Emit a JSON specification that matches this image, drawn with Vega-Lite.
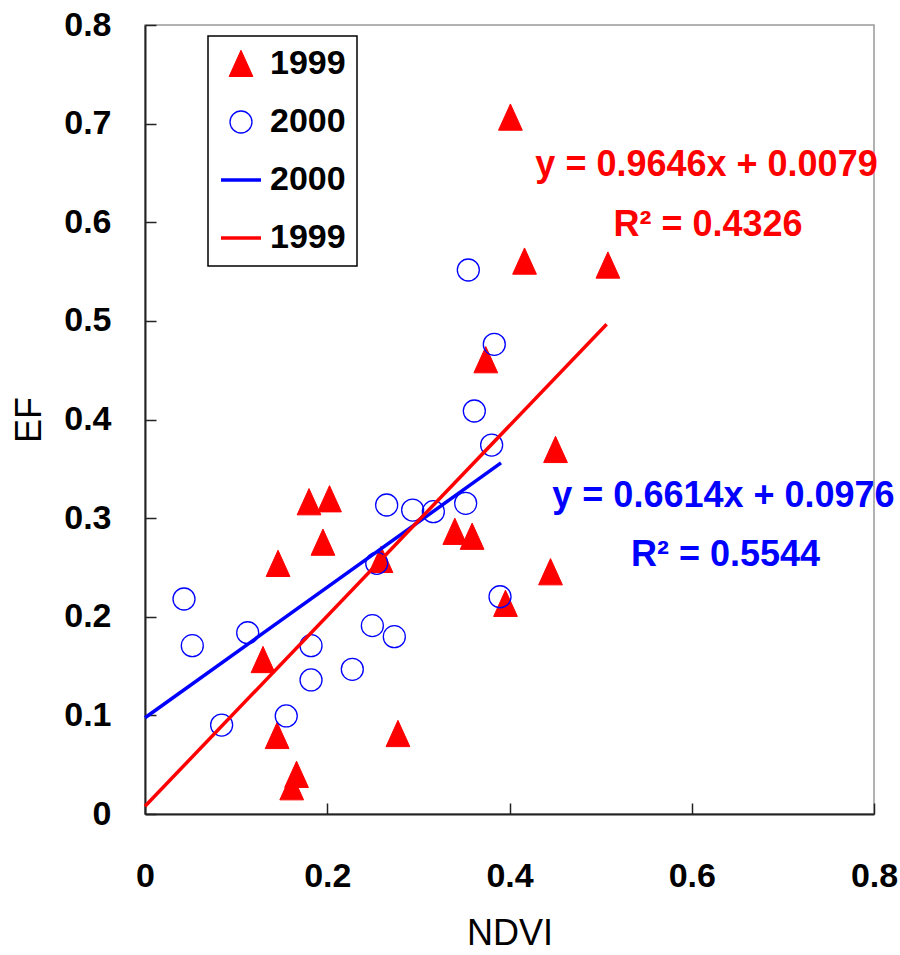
{
  "$schema": "https://vega.github.io/schema/vega-lite/v6.json",
  "width": 729,
  "height": 789,
  "autosize": {"type": "none"},
  "padding": {"left": 145, "top": 25, "right": 26, "bottom": 141},
  "background": "white",
  "config": {
    "view": {"stroke": "#999999", "strokeWidth": 1.5},
    "font": "Liberation Sans",
    "axis": {
      "grid": false,
      "domainColor": "#222222",
      "domainWidth": 2,
      "tickColor": "#222222",
      "tickWidth": 1.5,
      "tickSize": -11,
      "labelFont": "Liberation Sans",
      "labelFontWeight": "bold",
      "labelFontSize": 34,
      "labelColor": "#000000",
      "labelFlush": false,
      "labelOverlap": false,
      "titleFont": "Liberation Sans",
      "titleFontWeight": "normal",
      "titleFontSize": 36,
      "titleColor": "#000000"
    },
    "legend": {
      "orient": "none",
      "legendX": 63,
      "legendY": 11,
      "strokeColor": "#000000",
      "strokeWidth": 1.5,
      "fillColor": "white",
      "padding": 11,
      "symbolOffset": 5,
      "labelFont": "Liberation Sans",
      "labelFontWeight": "bold",
      "labelFontSize": 34,
      "labelColor": "#000000",
      "labelOffset": 12,
      "rowPadding": 24
    }
  },
  "data": {
    "values": [
      {"kind": "pt", "series": "1999 pts", "NDVI": 0.401, "EF": 0.706},
      {"kind": "pt", "series": "1999 pts", "NDVI": 0.4165, "EF": 0.560},
      {"kind": "pt", "series": "1999 pts", "NDVI": 0.508, "EF": 0.556},
      {"kind": "pt", "series": "1999 pts", "NDVI": 0.374, "EF": 0.460},
      {"kind": "pt", "series": "1999 pts", "NDVI": 0.4505, "EF": 0.369},
      {"kind": "pt", "series": "1999 pts", "NDVI": 0.445, "EF": 0.245},
      {"kind": "pt", "series": "1999 pts", "NDVI": 0.3956, "EF": 0.213},
      {"kind": "pt", "series": "1999 pts", "NDVI": 0.340, "EF": 0.286},
      {"kind": "pt", "series": "1999 pts", "NDVI": 0.359, "EF": 0.281},
      {"kind": "pt", "series": "1999 pts", "NDVI": 0.259, "EF": 0.2575},
      {"kind": "pt", "series": "1999 pts", "NDVI": 0.180, "EF": 0.316},
      {"kind": "pt", "series": "1999 pts", "NDVI": 0.2025, "EF": 0.319},
      {"kind": "pt", "series": "1999 pts", "NDVI": 0.1953, "EF": 0.275},
      {"kind": "pt", "series": "1999 pts", "NDVI": 0.146, "EF": 0.2535},
      {"kind": "pt", "series": "1999 pts", "NDVI": 0.1295, "EF": 0.156},
      {"kind": "pt", "series": "1999 pts", "NDVI": 0.145, "EF": 0.079},
      {"kind": "pt", "series": "1999 pts", "NDVI": 0.161, "EF": 0.027},
      {"kind": "pt", "series": "1999 pts", "NDVI": 0.1663, "EF": 0.0396},
      {"kind": "pt", "series": "1999 pts", "NDVI": 0.2776, "EF": 0.081},
      {"kind": "pt", "series": "2000 pts", "NDVI": 0.0428, "EF": 0.218},
      {"kind": "pt", "series": "2000 pts", "NDVI": 0.0519, "EF": 0.1707},
      {"kind": "pt", "series": "2000 pts", "NDVI": 0.1127, "EF": 0.1838},
      {"kind": "pt", "series": "2000 pts", "NDVI": 0.0841, "EF": 0.0902},
      {"kind": "pt", "series": "2000 pts", "NDVI": 0.155, "EF": 0.0994},
      {"kind": "pt", "series": "2000 pts", "NDVI": 0.1822, "EF": 0.1707},
      {"kind": "pt", "series": "2000 pts", "NDVI": 0.1822, "EF": 0.1359},
      {"kind": "pt", "series": "2000 pts", "NDVI": 0.2275, "EF": 0.1467},
      {"kind": "pt", "series": "2000 pts", "NDVI": 0.2495, "EF": 0.191},
      {"kind": "pt", "series": "2000 pts", "NDVI": 0.2736, "EF": 0.1798},
      {"kind": "pt", "series": "2000 pts", "NDVI": 0.2543, "EF": 0.2542},
      {"kind": "pt", "series": "2000 pts", "NDVI": 0.2652, "EF": 0.3133},
      {"kind": "pt", "series": "2000 pts", "NDVI": 0.2937, "EF": 0.3082},
      {"kind": "pt", "series": "2000 pts", "NDVI": 0.3164, "EF": 0.3065},
      {"kind": "pt", "series": "2000 pts", "NDVI": 0.3519, "EF": 0.315},
      {"kind": "pt", "series": "2000 pts", "NDVI": 0.3548, "EF": 0.5516},
      {"kind": "pt", "series": "2000 pts", "NDVI": 0.3833, "EF": 0.4762},
      {"kind": "pt", "series": "2000 pts", "NDVI": 0.3614, "EF": 0.4086},
      {"kind": "pt", "series": "2000 pts", "NDVI": 0.3804, "EF": 0.3741},
      {"kind": "pt", "series": "2000 pts", "NDVI": 0.3896, "EF": 0.2203},
      {"kind": "fit", "series": "2000 fit", "NDVI": 0, "EF": 0.0976},
      {"kind": "fit", "series": "2000 fit", "NDVI": 0.3907, "EF": 0.356},
      {"kind": "fit", "series": "1999 fit", "NDVI": 0, "EF": 0.0079},
      {"kind": "fit", "series": "1999 fit", "NDVI": 0.5066, "EF": 0.4966},
      {"kind": "label", "series": "1999 fit", "NDVI": 0.6162, "EF": 0.6469, "text": "y = 0.9646x + 0.0079"},
      {"kind": "label", "series": "1999 fit", "NDVI": 0.6178, "EF": 0.586, "text": "R² = 0.4326"},
      {"kind": "label", "series": "2000 fit", "NDVI": 0.6348, "EF": 0.3113, "text": "y = 0.6614x + 0.0976"},
      {"kind": "label", "series": "2000 fit", "NDVI": 0.637, "EF": 0.2515, "text": "R² = 0.5544"}
    ]
  },
  "encoding": {
    "x": {
      "field": "NDVI", "type": "quantitative",
      "scale": {"domain": [0, 0.8], "nice": false},
      "axis": {"values": [0, 0.2, 0.4, 0.6, 0.8], "format": "~g", "labelPadding": 56, "titlePadding": 23, "title": "NDVI"}
    },
    "y": {
      "field": "EF", "type": "quantitative",
      "scale": {"domain": [0, 0.8], "nice": false},
      "axis": {"values": [0, 0.1, 0.2, 0.3, 0.4, 0.5, 0.6, 0.7, 0.8], "format": "~g", "labelPadding": 45, "titlePadding": 15, "title": "EF"}
    }
  },
  "layer": [
    {
      "transform": [{"filter": "datum.kind === 'pt'"}],
      "mark": {"type": "point", "opacity": 1},
      "encoding": {
        "shape": {"field": "series", "type": "nominal", "title": null,
          "scale": {"domain": ["1999 pts", "2000 pts", "2000 fit", "1999 fit"], "range": ["M0,-1.1L-0.95,1L0.95,1Z", "circle", "M-2,0L2,0", "M-2,0L2,0"]},
          "legend": {"labelExpr": "slice(datum.label, 0, 4)"}},
        "size": {"field": "series", "type": "nominal", "title": null,
          "scale": {"type": "ordinal", "domain": ["1999 pts", "2000 pts", "2000 fit", "1999 fit"], "range": [625, 484, 400, 400]},
          "legend": {"labelExpr": "slice(datum.label, 0, 4)"}},
        "fill": {"field": "series", "type": "nominal", "title": null,
          "scale": {"domain": ["1999 pts", "2000 pts", "2000 fit", "1999 fit"], "range": ["#FF0000", "transparent", "transparent", "transparent"]},
          "legend": {"labelExpr": "slice(datum.label, 0, 4)"}},
        "stroke": {"field": "series", "type": "nominal", "title": null,
          "scale": {"domain": ["1999 pts", "2000 pts", "2000 fit", "1999 fit"], "range": ["#FF0000", "#0000FF", "#0000FF", "#FF0000"]},
          "legend": {"labelExpr": "slice(datum.label, 0, 4)"}},
        "strokeWidth": {"field": "series", "type": "nominal", "title": null,
          "scale": {"type": "ordinal", "domain": ["1999 pts", "2000 pts", "2000 fit", "1999 fit"], "range": [1, 1.3, 3.5, 3.5]},
          "legend": {"labelExpr": "slice(datum.label, 0, 4)"}}
      }
    },
    {
      "transform": [{"filter": "datum.kind === 'fit'"}],
      "mark": {"type": "line", "strokeWidth": 3.5},
      "encoding": {
        "stroke": {"field": "series", "type": "nominal", "title": null,
          "scale": {"domain": ["1999 pts", "2000 pts", "2000 fit", "1999 fit"], "range": ["#FF0000", "#0000FF", "#0000FF", "#FF0000"]},
          "legend": {"labelExpr": "slice(datum.label, 0, 4)"}}
      }
    },
    {
      "transform": [{"filter": "datum.kind === 'label' && datum.series === '1999 fit'"}],
      "mark": {"type": "text", "align": "center", "baseline": "alphabetic", "font": "Liberation Sans", "fontWeight": "bold", "fontSize": 36, "color": "#FF0000"},
      "encoding": {"text": {"field": "text"}}
    },
    {
      "transform": [{"filter": "datum.kind === 'label' && datum.series === '2000 fit'"}],
      "mark": {"type": "text", "align": "center", "baseline": "alphabetic", "font": "Liberation Sans", "fontWeight": "bold", "fontSize": 36, "color": "#0000FF"},
      "encoding": {"text": {"field": "text"}}
    }
  ]
}
